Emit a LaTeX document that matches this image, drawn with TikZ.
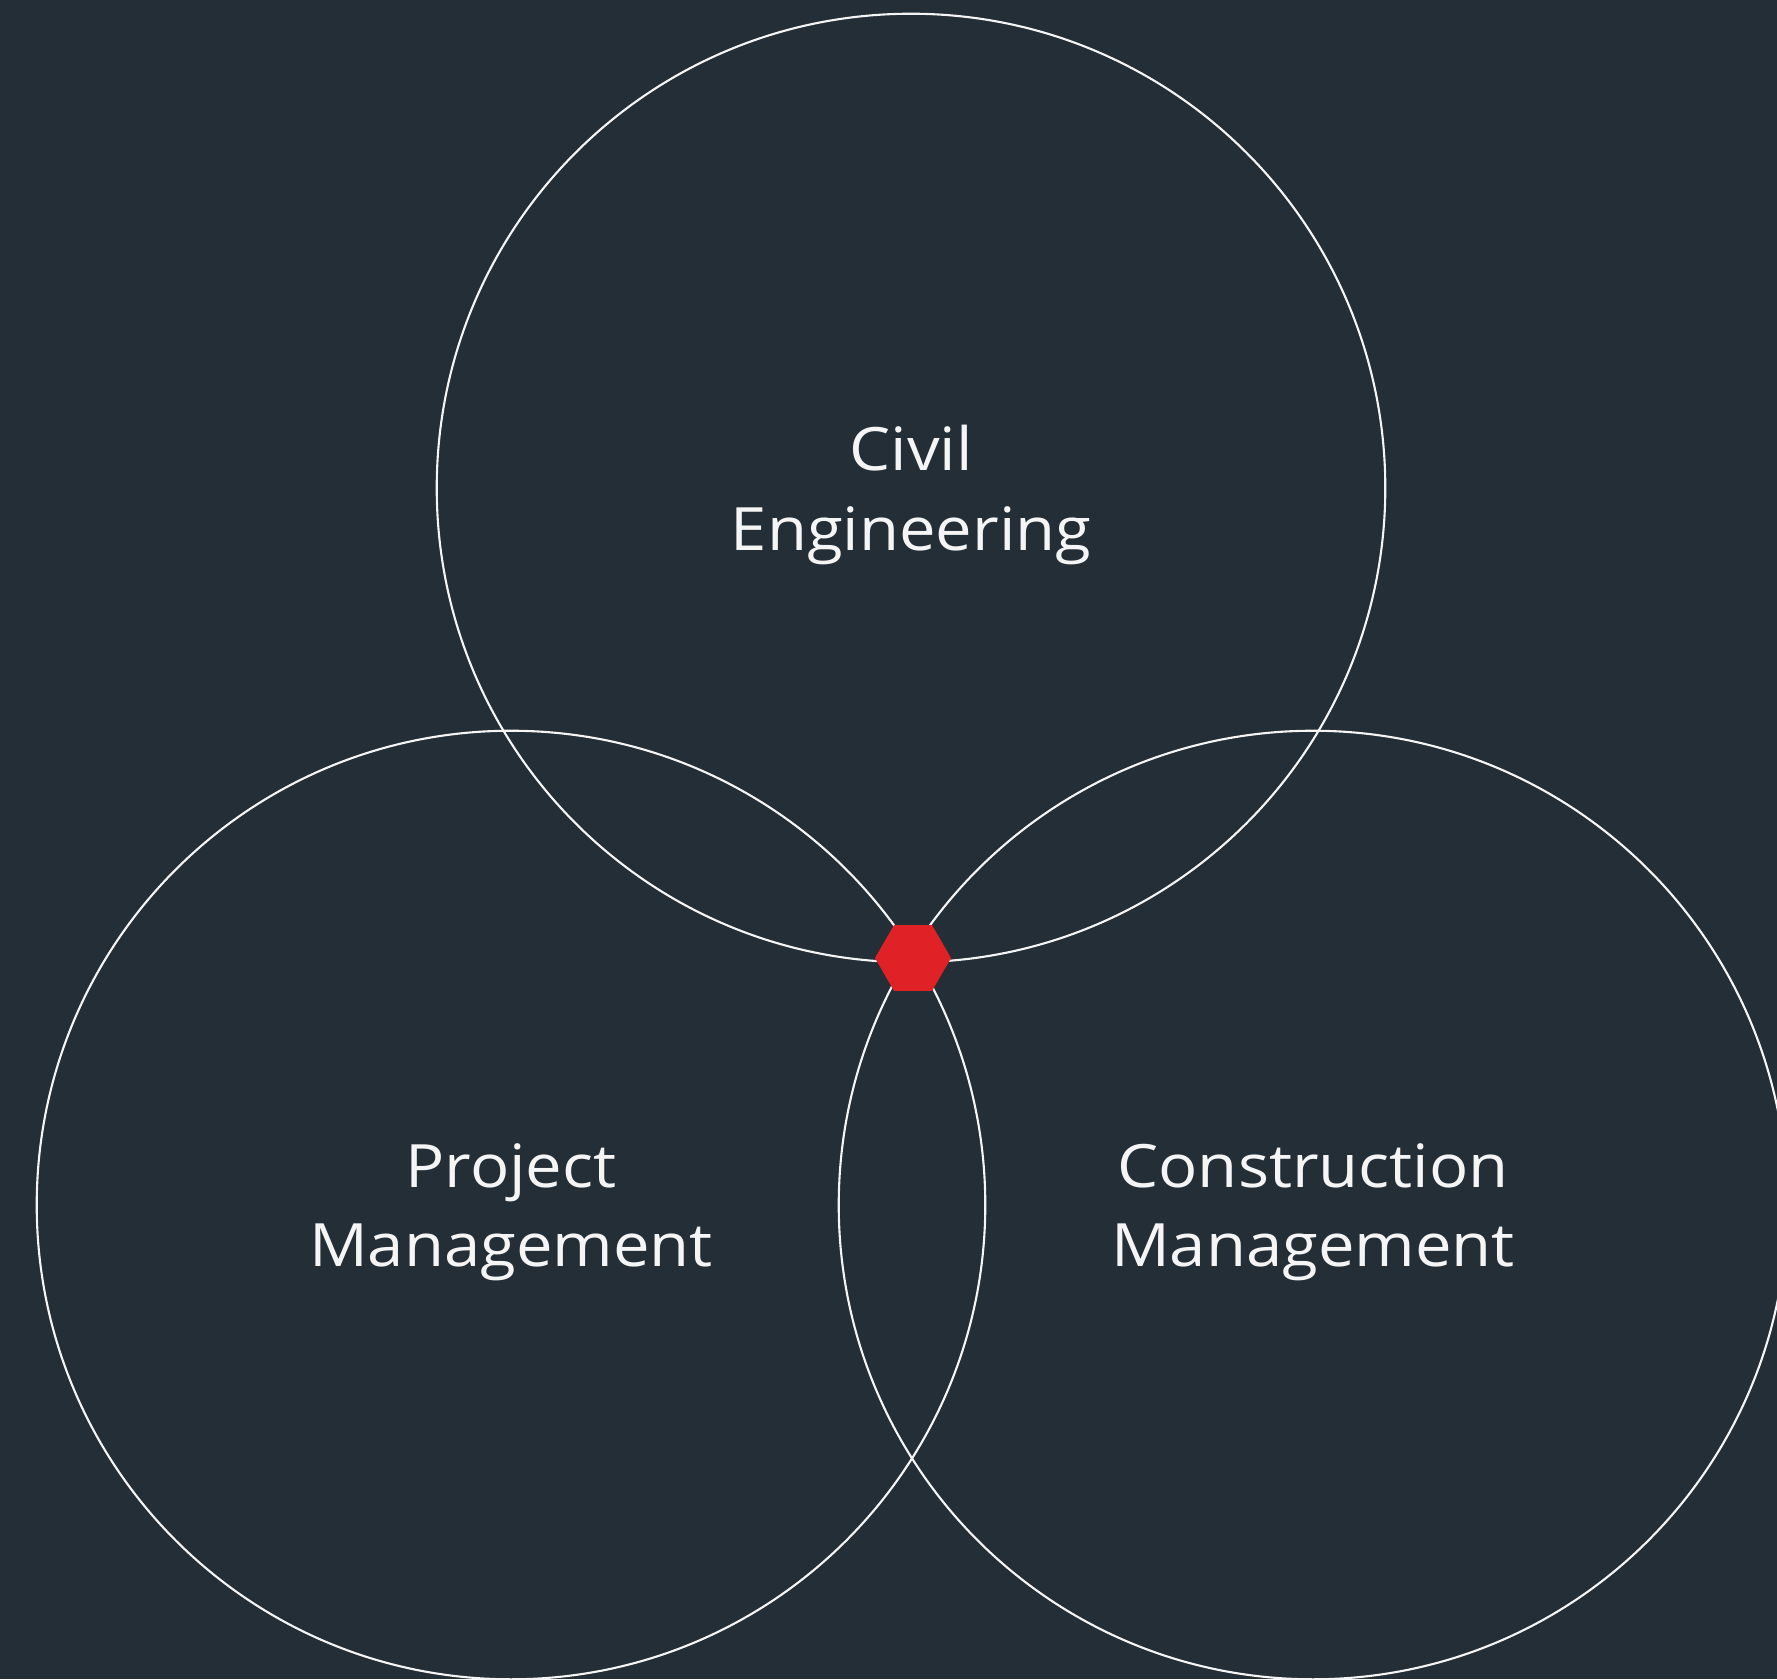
\documentclass[tikz,border=0pt]{standalone}
\usepackage{fontspec}
\setmainfont{Open Sans}[FakeStretch=1.09]
\usepackage{xcolor}
\usepackage{tikz}
\usetikzlibrary{shapes.geometric}

\definecolor{slate}{RGB}{35,46,55}
\definecolor{hexred}{RGB}{224,34,38}
\definecolor{ink}{RGB}{245,245,245}

\tikzset{
  venn/.style={circle, draw=ink, line width=0.6pt, minimum size=9.48cm, inner sep=0pt,
    text=ink, align=center, text depth=0pt, font=\fontsize{17}{22.7}\selectfont},
  core/.style={regular polygon, regular polygon sides=6, fill=hexred, minimum size=0.76cm, inner sep=0pt}
}

\begin{document}
\begin{tikzpicture}[x=0.01cm, y=-0.01cm]
        % Background
        \fill[slate] (0,0) rectangle (1777,1679);
        \useasboundingbox (0,0) rectangle (1777,1679);
        \clip (0,0) rectangle (1777,1679);

        % Three disciplines
        \node[venn] (civil) at (911,488) {Civil\\Engineering};
        \node[venn] (project) at (511,1205) {Project\\Management};
        \node[venn] (construction) at (1313,1205) {Construction\\Management};

        % Overlap marker
        \node[core] (hub) at (913,958) {};
    \end{tikzpicture}
\end{document}
